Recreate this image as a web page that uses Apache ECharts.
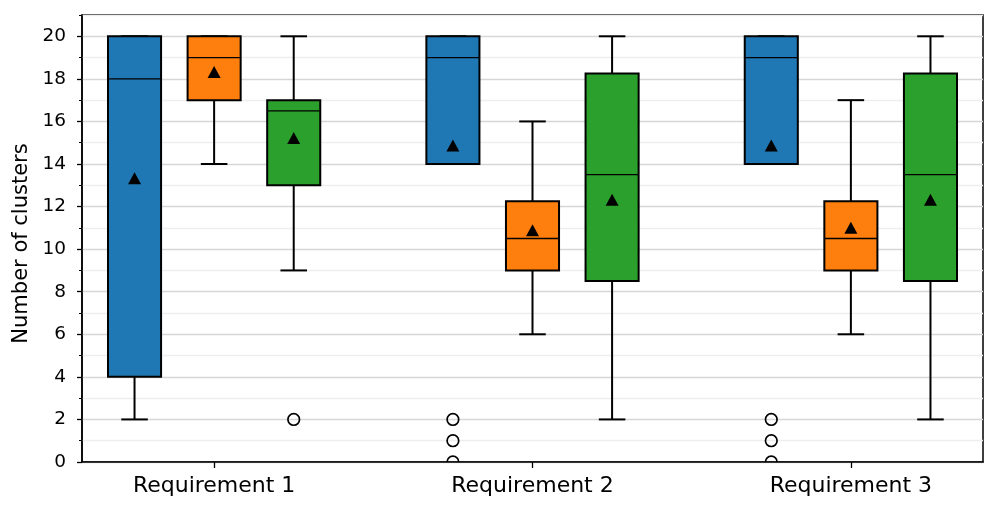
<!DOCTYPE html>
<html>
<head>
<meta charset="utf-8">
<script src="https://cdn.jsdelivr.net/npm/echarts@6/dist/echarts.min.js"></script>
<style>
html,body{margin:0;padding:0;background:#fff;}
#chart{width:997px;height:512px;}
</style>
</head>
<body>
<div id="chart"></div>
<script>
// ---- data ----
const categories = ['Requirement 1', 'Requirement 2', 'Requirement 3'];
const yTickValues = [0, 2, 4, 6, 8, 10, 12, 14, 16, 18, 20];
// box stats per group: [whiskerLow, Q1, median, Q3, whiskerHigh]
const blueStats   = [[2, 4, 18, 20, 20], [14, 14, 19, 20, 20], [14, 14, 19, 20, 20]];
const orangeStats = [[14, 17, 19, 20, 20], [6, 9, 10.5, 12.25, 16], [6, 9, 10.5, 12.25, 17]];
const greenStats  = [[9, 13, 16.5, 17, 20], [2, 8.5, 13.5, 18.25, 20], [2, 8.5, 13.5, 18.25, 20]];
const blueMeans   = [13.33, 14.87, 14.87];
const orangeMeans = [18.32, 10.89, 11.0];
const greenMeans  = [15.22, 12.32, 12.32];
const blueOutliers   = [[], [0, 1, 2], [0, 1, 2]];
const orangeOutliers = [[], [], []];
const greenOutliers  = [[2], [], []];

// ---- layout / style ----
const groupOffsets = [-0.25, 0, 0.25];
const boxWidth = 0.1667;
const colors = ['#1f77b4', '#ff7f0e', '#2ca02c'];
const FONT = 'DejaVu Sans';

const statsList = [blueStats, orangeStats, greenStats];
const meansList = [blueMeans, orangeMeans, greenMeans];
const outList = [blueOutliers, orangeOutliers, greenOutliers];

function boxRenderer(color) {
  return function (params, api) {
    const x = api.value(0);
    const lo = api.value(1), q1 = api.value(2), md = api.value(3), q3 = api.value(4), hi = api.value(5);
    const w = api.size([boxWidth, 0])[0];
    const cx = api.coord([x, 0])[0];
    const yLo = api.coord([x, lo])[1], yQ1 = api.coord([x, q1])[1], yMd = api.coord([x, md])[1];
    const yQ3 = api.coord([x, q3])[1], yHi = api.coord([x, hi])[1];
    const lineStyle = { stroke: '#000', lineWidth: 2, fill: null };
    const capHalf = w / 4;
    return {
      type: 'group',
      children: [
        { type: 'line', shape: { x1: cx, y1: yLo, x2: cx, y2: yQ1 }, style: lineStyle },
        { type: 'line', shape: { x1: cx, y1: yQ3, x2: cx, y2: yHi }, style: lineStyle },
        { type: 'line', shape: { x1: cx - capHalf, y1: yLo, x2: cx + capHalf, y2: yLo }, style: lineStyle },
        { type: 'line', shape: { x1: cx - capHalf, y1: yHi, x2: cx + capHalf, y2: yHi }, style: lineStyle },
        { type: 'rect', shape: { x: cx - w / 2, y: yQ3, width: w, height: yQ1 - yQ3 },
          style: { fill: color, stroke: '#000', lineWidth: 2 } },
        { type: 'line', shape: { x1: cx - w / 2, y1: yMd, x2: cx + w / 2, y2: yMd },
          style: { stroke: '#000', lineWidth: 1.3 } }
      ]
    };
  };
}

function outlierRenderer(params, api) {
  const p = api.coord([api.value(0), api.value(1)]);
  return {
    type: 'circle',
    shape: { cx: p[0], cy: p[1], r: 5.8 },
    style: { fill: null, stroke: '#000', lineWidth: 1.7 }
  };
}

const series = [];
statsList.forEach(function (stats, si) {
  series.push({
    type: 'custom',
    name: 'box' + si,
    xAxisIndex: 0, yAxisIndex: 0,
    renderItem: boxRenderer(colors[si]),
    encode: { x: 0, y: [1, 2, 3, 4, 5] },
    data: stats.map(function (s, gi) { return [gi + 1 + groupOffsets[si]].concat(s); }),
    z: 3,
    silent: true
  });
});
outList.forEach(function (outs, si) {
  const d = [];
  outs.forEach(function (vals, gi) { vals.forEach(function (v) { d.push([gi + 1 + groupOffsets[si], v]); }); });
  series.push({
    type: 'custom',
    name: 'out' + si,
    renderItem: outlierRenderer,
    encode: { x: 0, y: 1 },
    data: d,
    clip: true,
    z: 4,
    silent: true
  });
});
meansList.forEach(function (means, si) {
  series.push({
    type: 'scatter',
    name: 'mean' + si,
    symbol: 'triangle',
    symbolSize: [13, 12],
    itemStyle: { color: '#000', opacity: 1 },
    data: means.map(function (m, gi) { return [gi + 1 + groupOffsets[si], m]; }),
    z: 5,
    silent: true
  });
});

const chart = echarts.init(document.getElementById('chart'), null, { renderer: 'canvas' });
chart.setOption({
  animation: false,
  backgroundColor: '#fff',
  grid: {
    left: 82, right: 14, top: 15, bottom: 50,
    show: true, borderColor: '#000', borderWidth: 1.5,
    containLabel: false, outerBoundsMode: 'none'
  },
  xAxis: {
    type: 'value', min: 0.585, max: 3.415,
    axisLine: { show: true, lineStyle: { color: '#000', width: 1.5 } },
    axisTick: { show: true, customValues: [1, 2, 3], length: 6, lineStyle: { color: '#000', width: 1.3 } },
    axisLabel: {
      customValues: [1, 2, 3], margin: 13,
      formatter: function (v) { return categories[Math.round(v) - 1] || ''; },
      fontFamily: FONT, fontSize: 22, color: '#000'
    },
    splitLine: { show: false }
  },
  yAxis: [
    {
      type: 'value', min: 0, max: 21, interval: 1, position: 'left',
      axisLine: { show: false },
      axisTick: { show: true, length: 3, lineStyle: { color: '#000', width: 1 } },
      axisLabel: { show: false },
      splitLine: { show: true, lineStyle: { color: ['#d6d6d6', '#eeeeee'], width: 1.4 } }
    },
    {
      type: 'value', min: 0, max: 21, position: 'left',
      name: 'Number of clusters', nameLocation: 'middle', nameGap: 44,
      nameTextStyle: { fontFamily: FONT, fontSize: 21, color: '#000', padding: [0, 10, 0, 0] },
      axisLine: { show: true, lineStyle: { color: '#000', width: 1.5 } },
      axisTick: { show: true, customValues: yTickValues, length: 5, lineStyle: { color: '#000', width: 1.3 } },
      axisLabel: { customValues: yTickValues, margin: 16, fontFamily: FONT, fontSize: 18.5, color: '#000' },
      splitLine: { show: false }
    }
  ],
  series: series
});
</script>
</body>
</html>
